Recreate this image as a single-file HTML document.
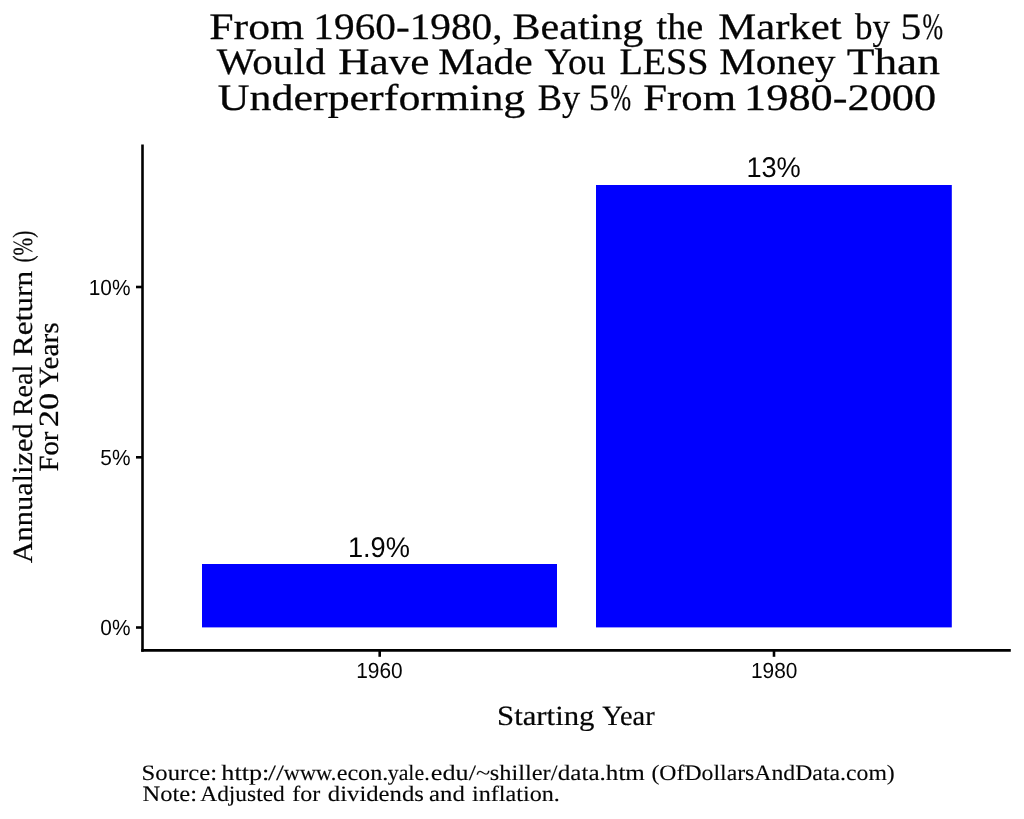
<!DOCTYPE html>
<html lang="en">
<head>
<meta charset="utf-8">
<title>From 1960-1980, Beating the Market by 5%</title>
<style>
  html, body { margin: 0; padding: 0; background: #ffffff; }
  body { width: 1024px; height: 819px; overflow: hidden; }
  svg { display: block; will-change: transform; }
  text { text-rendering: geometricPrecision; white-space: pre; }
  .s { font-family: "Liberation Serif", "DejaVu Serif", serif; fill: #050505; }
  .n { font-family: "Liberation Sans", "DejaVu Sans", sans-serif; fill: #050505; }
  .t { font-size: 37.3px; stroke: #050505; stroke-width: 0.25px; }
  .a { font-size: 27.8px; stroke: #050505; stroke-width: 0.2px; }
  .c { font-size: 22px; stroke: #050505; stroke-width: 0.12px; }
  .k { font-size: 21.9px; }
  .b { font-size: 28.5px; }
</style>
</head>
<body>
<svg width="1024" height="819" viewBox="0 0 1024 819">
  <rect x="0" y="0" width="1024" height="819" fill="#ffffff"/>

  <!-- bars -->
  <rect x="202" y="564" width="355" height="63.4" fill="#0000ff"/>
  <rect x="596" y="185" width="355.8" height="442.4" fill="#0000ff"/>

  <!-- bar value labels -->
  <text class="n b" x="347.91" y="556.9" textLength="61.99" lengthAdjust="spacingAndGlyphs">1.9%</text>
  <text class="n b" x="746.39" y="177.1" textLength="54.43" lengthAdjust="spacingAndGlyphs">13%</text>

  <!-- axes -->
  <g stroke="#000000" stroke-width="2.6" fill="none" stroke-linecap="butt">
    <line x1="142.5" y1="144.4" x2="142.5" y2="651.7"/>
    <line x1="141.2" y1="650.4" x2="1010.8" y2="650.4"/>
    <line x1="136" y1="627.5" x2="142" y2="627.5"/>
    <line x1="136" y1="457.3" x2="142" y2="457.3"/>
    <line x1="136" y1="287" x2="142" y2="287"/>
    <line x1="379.7" y1="651" x2="379.7" y2="656.8"/>
    <line x1="774" y1="651" x2="774" y2="656.8"/>
  </g>

  <!-- tick labels -->
  <text class="n k" x="100.30" y="635.4" textLength="30.20" lengthAdjust="spacingAndGlyphs">0%</text>
  <text class="n k" x="100.30" y="465.2" textLength="30.20" lengthAdjust="spacingAndGlyphs">5%</text>
  <text class="n k" x="88.68" y="294.9" textLength="41.82" lengthAdjust="spacingAndGlyphs">10%</text>
  <text class="n k" x="356.20" y="677.9" textLength="46.48" lengthAdjust="spacingAndGlyphs">1960</text>
  <text class="n k" x="751.00" y="677.9" textLength="46.48" lengthAdjust="spacingAndGlyphs">1980</text>

  <!-- title, x-axis title, caption (word by word) -->
  <text class="s t" y="39.0"><tspan x="209.24" textLength="94.95" lengthAdjust="spacingAndGlyphs">From</tspan> <tspan x="313.37" textLength="189.23" lengthAdjust="spacingAndGlyphs">1960-1980,</tspan> <tspan x="512.54" textLength="130.76" lengthAdjust="spacingAndGlyphs">Beating</tspan> <tspan x="656.63" textLength="46.70" lengthAdjust="spacingAndGlyphs">the</tspan> <tspan x="718.27" textLength="123.23" lengthAdjust="spacingAndGlyphs">Market</tspan> <tspan x="855.00" textLength="35.14" lengthAdjust="spacingAndGlyphs">by</tspan> <tspan x="900.58" textLength="20.85" lengthAdjust="spacingAndGlyphs">5</tspan><tspan x="922.56" textLength="20.59" lengthAdjust="spacingAndGlyphs">%</tspan></text>
  <text class="s t" y="74.4"><tspan x="216.71" textLength="108.79" lengthAdjust="spacingAndGlyphs">Would</tspan> <tspan x="338.25" textLength="91.24" lengthAdjust="spacingAndGlyphs">Have</tspan> <tspan x="438.31" textLength="94.38" lengthAdjust="spacingAndGlyphs">Made</tspan> <tspan x="544.58" textLength="61.07" lengthAdjust="spacingAndGlyphs">You</tspan> <tspan x="619.40" textLength="89.22" lengthAdjust="spacingAndGlyphs">LESS</tspan> <tspan x="719.32" textLength="116.34" lengthAdjust="spacingAndGlyphs">Money</tspan> <tspan x="846.68" textLength="93.26" lengthAdjust="spacingAndGlyphs">Than</tspan></text>
  <text class="s t" y="110.2"><tspan x="217.83" textLength="307.51" lengthAdjust="spacingAndGlyphs">Underperforming</tspan> <tspan x="537.70" textLength="42.44" lengthAdjust="spacingAndGlyphs">By</tspan> <tspan x="588.58" textLength="20.85" lengthAdjust="spacingAndGlyphs">5</tspan><tspan x="610.56" textLength="20.59" lengthAdjust="spacingAndGlyphs">%</tspan> <tspan x="643.26" textLength="92.91" lengthAdjust="spacingAndGlyphs">From</tspan> <tspan x="744.10" textLength="192.09" lengthAdjust="spacingAndGlyphs">1980-2000</tspan></text>
  <text class="s a" y="724.8"><tspan x="497.04" textLength="97.44" lengthAdjust="spacingAndGlyphs">Starting</tspan> <tspan x="602.38" textLength="52.27" lengthAdjust="spacingAndGlyphs">Year</tspan></text>
  <text class="s c" y="780.2"><tspan x="141.60" textLength="75.40" lengthAdjust="spacingAndGlyphs">Source:</tspan> <tspan x="221.34" textLength="48.08" lengthAdjust="spacingAndGlyphs">http:</tspan><tspan x="268.00" textLength="15.80" lengthAdjust="spacingAndGlyphs">//</tspan><tspan x="283.88" textLength="52.39" lengthAdjust="spacingAndGlyphs">www.</tspan><tspan x="336.65" textLength="51.74" lengthAdjust="spacingAndGlyphs">econ.</tspan><tspan x="387.73" textLength="41.91" lengthAdjust="spacingAndGlyphs">yale.</tspan><tspan x="430.88" textLength="59.17" lengthAdjust="spacingAndGlyphs">edu/~</tspan><tspan x="489.80" textLength="67.70" lengthAdjust="spacingAndGlyphs">shiller/</tspan><tspan x="557.84" textLength="87.05" lengthAdjust="spacingAndGlyphs">data.htm</tspan> <tspan x="651.46" textLength="243.34" lengthAdjust="spacingAndGlyphs">(OfDollarsAndData.com)</tspan></text>
  <text class="s c" y="800.8"><tspan x="142.54" textLength="54.44" lengthAdjust="spacingAndGlyphs">Note:</tspan> <tspan x="200.27" textLength="84.51" lengthAdjust="spacingAndGlyphs">Adjusted</tspan> <tspan x="292.26" textLength="27.95" lengthAdjust="spacingAndGlyphs">for</tspan> <tspan x="327.86" textLength="96.03" lengthAdjust="spacingAndGlyphs">dividends</tspan> <tspan x="429.13" textLength="35.67" lengthAdjust="spacingAndGlyphs">and</tspan> <tspan x="471.99" textLength="87.85" lengthAdjust="spacingAndGlyphs">inflation.</tspan></text>

  <!-- y-axis title -->
  <g transform="translate(0,397) rotate(-90)">
    <text class="s a" y="32.3"><tspan x="-166.30" textLength="139.87" lengthAdjust="spacingAndGlyphs">Annualized</tspan> <tspan x="-19.11" textLength="51.47" lengthAdjust="spacingAndGlyphs">Real</tspan> <tspan x="40.69" textLength="85.58" lengthAdjust="spacingAndGlyphs">Return</tspan> <tspan x="134.47" textLength="31.76" lengthAdjust="spacingAndGlyphs">(%)</tspan></text>
    <text class="s a" y="58.3"><tspan x="-74.63" textLength="39.98" lengthAdjust="spacingAndGlyphs">For</tspan> <tspan x="-30.31" textLength="34.42" lengthAdjust="spacingAndGlyphs">20</tspan> <tspan x="9.17" textLength="65.49" lengthAdjust="spacingAndGlyphs">Years</tspan></text>
  </g>
</svg>
</body>
</html>
